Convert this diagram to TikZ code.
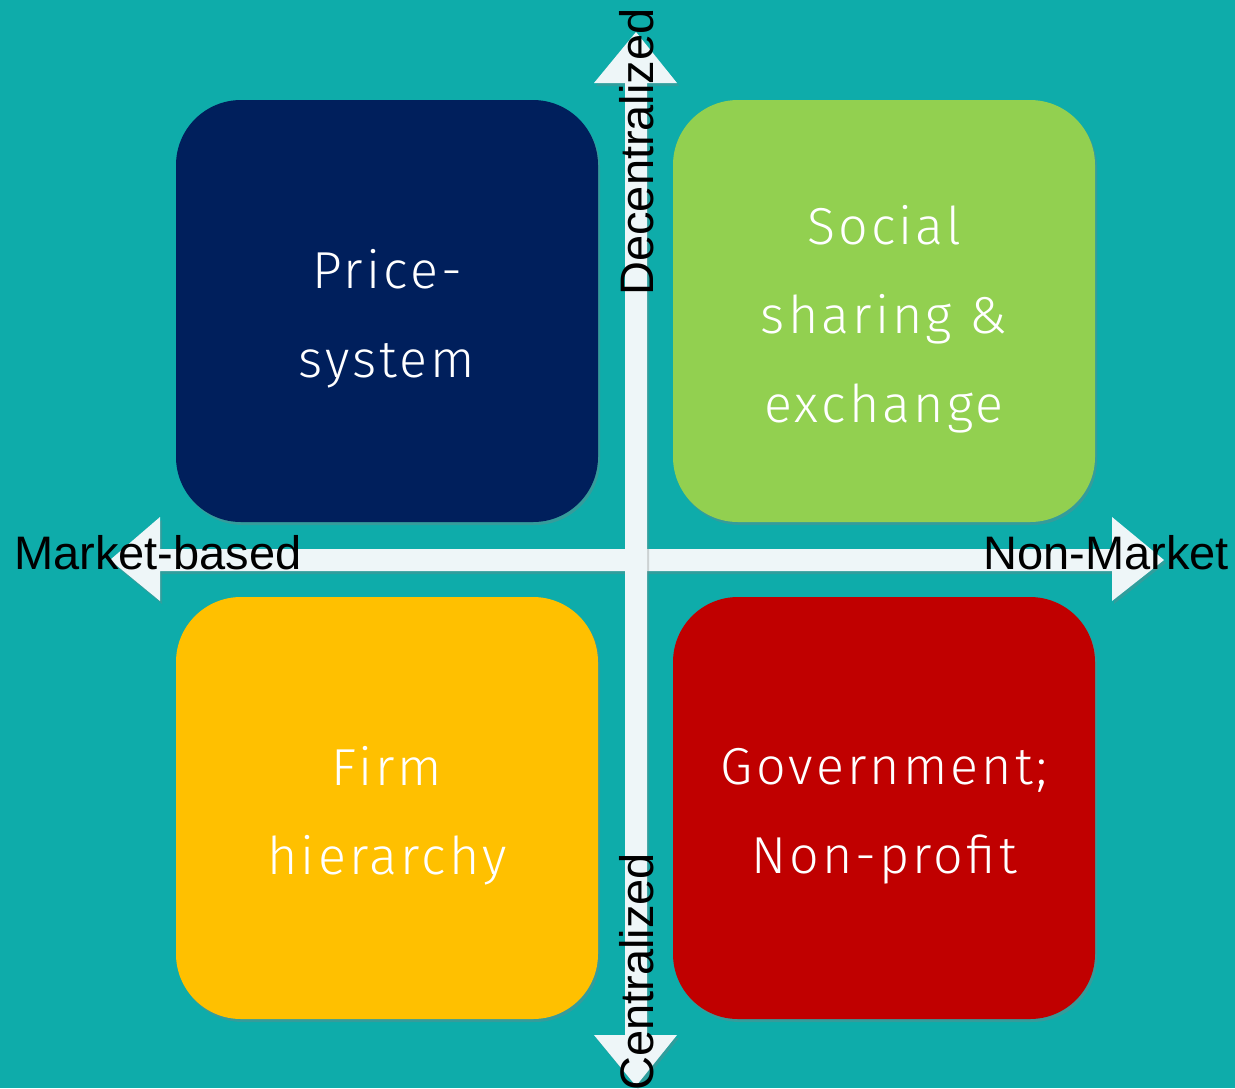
\documentclass[tikz,border=0pt]{standalone}
\usepackage{fontspec}
\setmainfont{Liberation Sans}
\newfontfamily\boxfont[LetterSpace=6]{Fira Sans Light}
\usepackage{tikz}
\usetikzlibrary{shadows}
\usepackage{xcolor}
\definecolor{bgteal}{HTML}{0EACAA}
\definecolor{quadnavy}{HTML}{001F5C}
\definecolor{quadgreen}{HTML}{92D050}
\definecolor{quadyellow}{HTML}{FFC000}
\definecolor{quadred}{HTML}{C00000}
\definecolor{axiswhite}{HTML}{EEF6F8}
\tikzset{
    quad/.style={minimum size=422, rounded corners=65, inner sep=0,
        drop shadow={opacity=0.35, shadow xshift=2pt, shadow yshift=-3pt}},
    quadtext/.style={text=white, align=center, inner sep=0,
        font=\boxfont\fontsize{52}{89}\selectfont},
    axislabel/.style={font=\fontsize{47}{50}\selectfont, text=black, inner sep=0},
}
\newcommand{\quadrant}[4] {
    \node[quad,fill=#3] (#1) at (#2) {};
    \node[quadtext] (#1-text) at ([yshift=-8pt]#1) {#4};
}
\begin{document}
\begin{tikzpicture}[x=1pt,y=-1pt]
    \fill[bgteal] (0,0) rectangle (1235,1088);
    \useasboundingbox (0,0) rectangle (1235,1088);
    \quadrant{price}{387,311}{quadnavy}{Price-\\system}
    \quadrant{social}{884,311}{quadgreen}{Social\\sharing \&\\exchange}
    \quadrant{firm}{387,808}{quadyellow}{Firm\\hierarchy}
    \quadrant{govt}{884,808}{quadred}{Government;\\Non-profit}
    % axes
    \fill[axiswhite, drop shadow={opacity=0.3, shadow xshift=2pt, shadow yshift=-3pt}]
        (110,560) -- (160,517) -- (160,549) -- (1112,549) -- (1112,517)
        -- (1164,560) -- (1112,601) -- (1112,571) -- (160,571) -- (160,601) -- cycle;
    \fill[axiswhite, drop shadow={opacity=0.3, shadow xshift=2pt, shadow yshift=-3pt}]
        (636,32) -- (677,83) -- (647,83) -- (647,1035) -- (677,1035)
        -- (636,1086) -- (594,1035) -- (625,1035) -- (625,83) -- (594,83) -- cycle;
    \node[axislabel] (market) at (158,553) {Market-based};
    \node[axislabel] (nonmarket) at (1106,553) {Non-Market};
    \node[axislabel, rotate=90] (decentral) at (637,152) {Decentralized};
    \node[axislabel, rotate=90] (central) at (637,972) {Centralized};
\end{tikzpicture}
\end{document}
